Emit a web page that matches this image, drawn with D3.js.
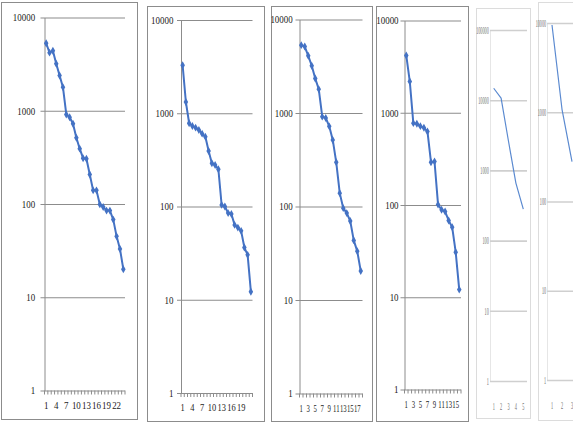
<!DOCTYPE html>
<html><head><meta charset="utf-8">
<script src="https://cdn.jsdelivr.net/npm/d3@7"></script>
<style>body{margin:0;background:#fff}svg{display:block}</style>
</head><body>
<script>
// ---- data ----
const p1Values = [5300,4200,4400,3190,2390,1790,912,853,726,514,392,310,306,207,140,140,99,93,85,85,68,45,33,20];
const p2Values = [3270,1320,782,731,701,662,604,561,394,291,279,251,104,100,85,83,63.5,59.4,54.8,36.3,30.3,12.2];
const p3Values = [5320,5140,4090,3200,2340,1800,914,885,720,515,297,139,96,85,70,43.4,33.3,20.4];
const p4Values = [4180,2180,771,760,716,687,627,291,296,101,88.7,85,68,57.5,30.8,12.1];
const p5Values = [14800,10700,2600,660,280];
const p6Values = [9500,1080,280];

const p1XLabels = [1,4,7,10,13,16,19,22];
const p2XLabels = [1,4,7,10,13,16,19];
const p3XLabels = [1,3,5,7,9,11,13,15,17];
const p4XLabels = [1,3,5,7,9,11,13,15];
const p5XLabels = [1,2,3,4,5];
const p6XLabels = [1,2,3];

const yTicks4 = [1,10,100,1000,10000];
const yTicks5 = [1,10,100,1000,10000,100000];

// ---- layout ----
const W = 573, H = 425;
const svg = d3.select("body").append("svg").attr("width", W).attr("height", H);

const panels = [
  {values:p1Values, n:24, xLabels:p1XLabels, yTicks:yTicks4, box:[1.5,2.5,136,417], x0:44.5, x1:125, yTop:17.5, yBot:390.5, gap:11, xs:0.85, kind:"main"},
  {values:p2Values, n:22, xLabels:p2XLabels, yTicks:yTicks4, box:[147.5,6.5,117,415], x0:181, x1:252.5, yTop:20, yBot:393, gap:9, xs:0.8, kind:"main"},
  {values:p3Values, n:18, xLabels:p3XLabels, yTicks:yTicks4, box:[271.5,6.5,101,415], x0:299.5, x1:362.5, yTop:19.5, yBot:393.5, gap:8, xs:0.64, kind:"main"},
  {values:p4Values, n:16, xLabels:p4XLabels, yTicks:yTicks4, box:[376.5,6.5,92,415], x0:404.5, x1:461, yTop:20.5, yBot:389.5, gap:7, xs:0.64, kind:"main"},
  {values:p5Values, n:5, xLabels:p5XLabels, yTicks:yTicks5, box:[476.5,8.5,54,410], x0:490, x1:527, yTop:30, yBot:381, gap:3, xs:0.45, kind:"faint"},
  {values:p6Values, n:5, xLabels:p6XLabels, yTicks:yTicks4, box:[538.5,2.5,80,418], x0:547, x1:597, yTop:23, yBot:380, gap:2, xs:0.45, kind:"faint"}
];

panels.forEach(p => {
  const main = p.kind === "main";
  const g = svg.append("g");
  g.append("rect")
    .attr("x", p.box[0]).attr("y", p.box[1]).attr("width", p.box[2]).attr("height", p.box[3])
    .attr("fill", "#fff").attr("stroke", main ? "#8c8c8c" : "#dcdcdc").attr("stroke-width", 1);

  const cats = d3.range(1, p.n + 1);
  const x = d3.scaleBand().domain(cats).range([p.x0, p.x1]);
  const cx = c => x(c) + x.bandwidth() / 2;
  const y = d3.scaleLog().domain([1, d3.max(p.yTicks)]).range([p.yBot, p.yTop]);

  // y axis with gridlines
  const ya = g.append("g").attr("transform", `translate(${p.x0},0)`)
    .call(d3.axisLeft(y).tickValues(p.yTicks).tickFormat(d => String(d)).tickSizeInner(0).tickSizeOuter(0).tickPadding(p.gap));
  ya.select(".domain").attr("stroke", main ? "#8c8c8c" : "#e6e6e6");
  ya.selectAll(".tick line")
    .attr("x1", main ? -4 : 0).attr("x2", p.x1 - p.x0)
    .attr("stroke", main ? "#8c8c8c" : "#cfcfcf").attr("stroke-width", main ? 1.2 : 1.6);
  ya.selectAll(".tick text")
    .attr("fill", main ? "#222" : "#6e6e6e")
    .style("font-family", "'Liberation Serif', 'Times New Roman', serif")
    .style("font-size", main ? "10.5px" : "10px")
    .attr("transform", main ? "scale(0.85,1)" : "scale(0.42,1)");

  // x axis labels
  const xa = g.append("g").attr("transform", `translate(0,${p.yBot})`)
    .call(d3.axisBottom(x).tickValues(p.xLabels).tickSize(0).tickPadding(main ? 11 : 22));
  xa.select(".domain").remove();
  xa.selectAll(".tick text")
    .attr("fill", main ? "#222" : "#6e6e6e")
    .style("font-family", "'Liberation Serif', 'Times New Roman', serif")
    .style("font-size", main ? "10.5px" : "9.5px")
    .attr("transform", `scale(${p.xs},1)`);

  // category boundary tick marks
  if (main) {
    const bounds = cats.map(c => x(c)).concat([p.x1]);
    g.append("g").selectAll("line").data(bounds).join("line")
      .attr("x1", d => d).attr("x2", d => d)
      .attr("y1", p.yBot).attr("y2", p.yBot + 4)
      .attr("stroke", "#8c8c8c").attr("stroke-width", 1);
  }

  // series line
  const pts = p.values.map((v, i) => [cx(i + 1), y(v)]);
  const clip = "clip" + p.x0;
  g.append("clipPath").attr("id", clip).append("rect")
    .attr("x", p.box[0]).attr("y", p.box[1]).attr("width", p.box[2]).attr("height", p.box[3]);
  const lg = g.append("g").attr("clip-path", `url(#${clip})`);
  lg.append("path").attr("d", d3.line()(pts))
    .attr("fill", "none").attr("stroke", main ? "#4472c4" : "#5b8ad0")
    .attr("stroke-width", main ? 2 : 1.2).attr("stroke-linejoin", "round");
  if (main) {
    lg.selectAll(".mk").data(pts).join("path")
      .attr("transform", d => `translate(${d[0]},${d[1]})`)
      .attr("d", d3.symbol(d3.symbolDiamond, 18)())
      .attr("fill", "#4472c4");
  }
});
</script>
</body></html>
